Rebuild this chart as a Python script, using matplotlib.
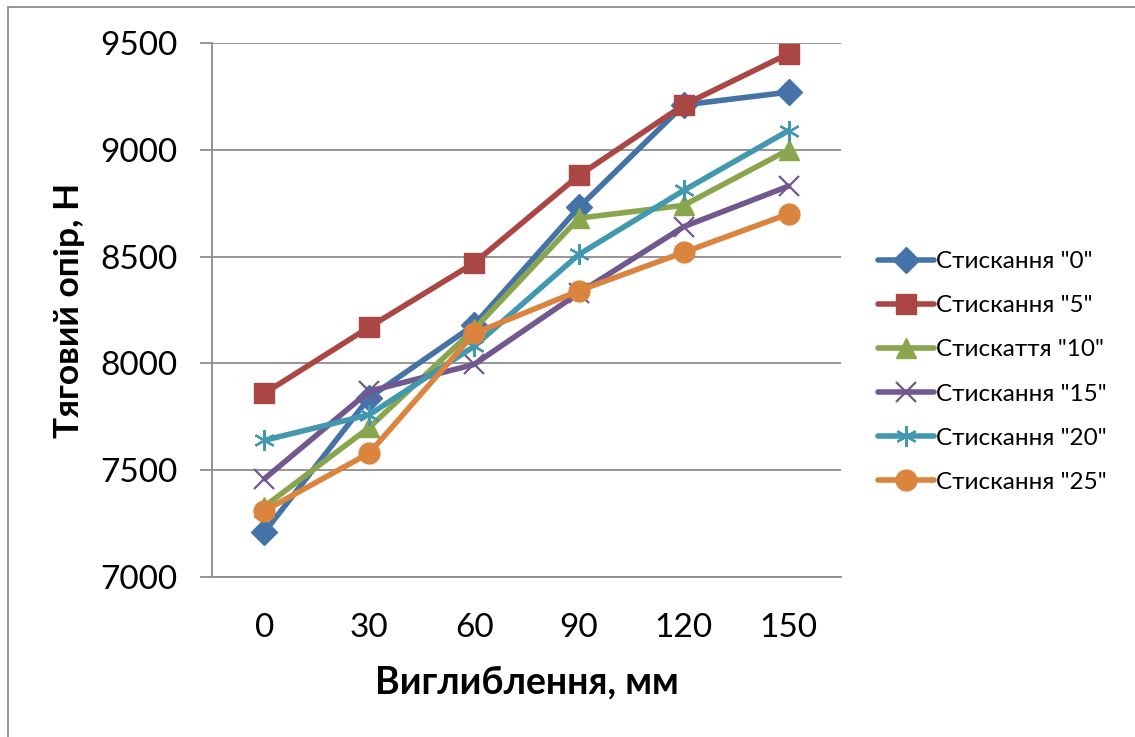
import numpy as np
import matplotlib
matplotlib.use('Agg')
import matplotlib.pyplot as plt
from matplotlib.patches import Rectangle

# ============ дані ============
categories = ['0', '30', '60', '90', '120', '150']
s0 = [7210, 7840, 8180, 8730, 9210, 9270]
s5 = [7860, 8170, 8470, 8880, 9210, 9450]
s10 = [7330, 7700, 8160, 8680, 8740, 9000]
s15 = [7460, 7870, 7995, 8330, 8640, 8830]
s20 = [7640, 7760, 8080, 8510, 8810, 9090]
s25 = [7310, 7580, 8140, 8340, 8520, 8700]
labels = ['Стискання "0"', 'Стискання "5"', 'Стискаття "10"',
          'Стискання "15"', 'Стискання "20"', 'Стискання "25"']
yticks = [7000, 7500, 8000, 8500, 9000, 9500]

plt.rcParams['font.family'] = ['Lato', 'Noto Sans', 'DejaVu Sans']

fig = plt.figure(figsize=(11.35, 7.37), dpi=100)
ax = fig.add_axes([212/1135, 1 - 577/737, (841-212)/1135, (577-43)/737])

x = np.arange(len(categories))
styles = [
    dict(color='#4572A7', marker='D', markersize=13),
    dict(color='#AA4643', marker='s', markersize=14),
    dict(color='#89A54E', marker='^', markersize=15),
    dict(color='#71588F', marker='x', markersize=14, markeredgewidth=1.6),
    dict(color='#4198AF', marker=(6, 2, 0), markersize=15, markeredgewidth=1.6),
    dict(color='#DB843D', marker='o', markersize=15),
]
for ys, lab, st in zip([s0, s5, s10, s15, s20, s25], labels, styles):
    ax.plot(x, ys, linewidth=4, label=lab, solid_capstyle='round', **st)

ax.set_xlim(-0.5, len(categories) - 0.5)
ax.set_ylim(7000, 9500)
ax.set_yticks(yticks)
ax.set_xticks(x)
ax.set_xticklabels(categories)
ax.grid(axis='y', color='#8c8c8c', linewidth=1.3)
ax.set_axisbelow(True)
for side in ['top', 'right']:
    ax.spines[side].set_visible(False)
for side in ['left', 'bottom']:
    ax.spines[side].set_color('#8c8c8c')
    ax.spines[side].set_linewidth(1.3)
ax.tick_params(axis='y', length=9, width=1.3, color='#8c8c8c', pad=16, labelsize=24)
ax.tick_params(axis='x', length=0, pad=26, labelsize=24)

ax.set_xlabel('Виглиблення, мм', fontsize=27, fontweight='bold', labelpad=16)
ax.set_ylabel('Тяговий опір, Н', fontsize=25.5, fontweight='bold', labelpad=11)

leg = ax.legend(loc='center left', bbox_to_anchor=(878/1135, 1 - 372/737),
                bbox_transform=fig.transFigure, frameon=False, fontsize=17.5,
                handlelength=2.3, handletextpad=0.1, labelspacing=0.95,
                borderaxespad=0, borderpad=0)

# рамка області діаграми
fig.patches.append(Rectangle((8/1135, -0.1), 1.2, 1.1 - 7/737, transform=fig.transFigure,
                             fill=False, edgecolor='#8c8c8c', linewidth=1.3))

plt.savefig('out.png', dpi=100)
plt.close()
